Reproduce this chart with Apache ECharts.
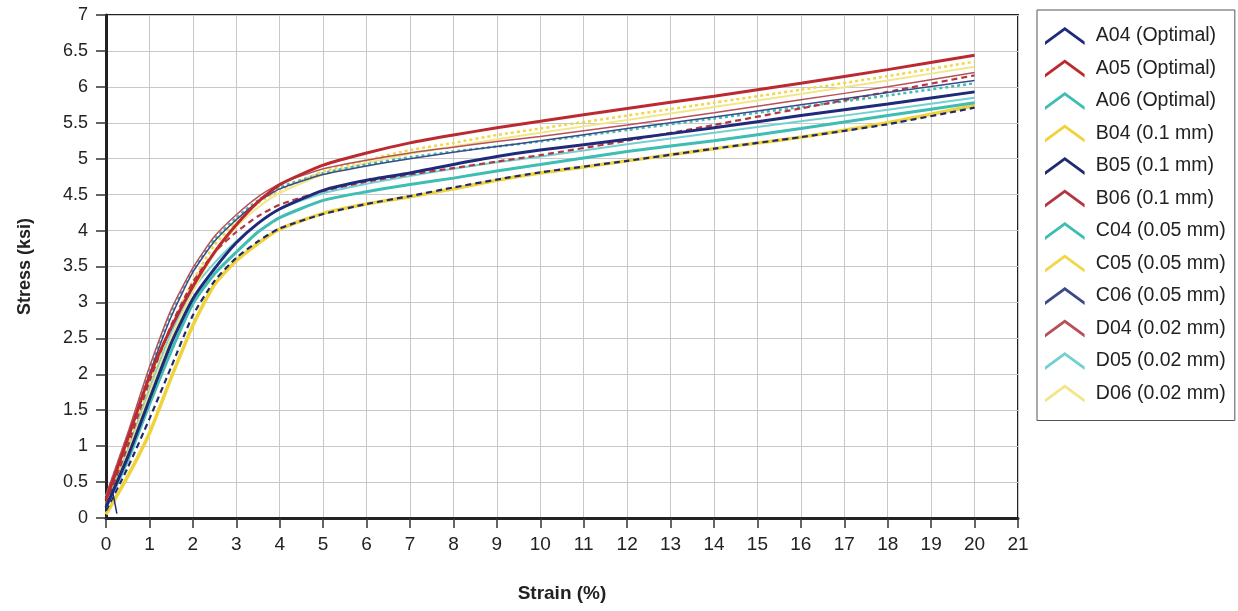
<!DOCTYPE html>
<html>
<head>
<meta charset="utf-8">
<script src="https://cdn.jsdelivr.net/npm/echarts@6/dist/echarts.min.js"></script>
<style>html,body{margin:0;padding:0;background:#fff}#c{width:1238px;height:611px}</style>
</head>
<body>
<div id="c"></div>
<script>
// Strain (%) sample positions shared by all curves
const strain = [0, 0.5, 1, 1.5, 2, 2.5, 3, 3.5, 4, 5, 6, 7, 8, 9, 10, 12, 14, 16, 18, 20];

const seriesNames = ['A04 (Optimal)','A05 (Optimal)','A06 (Optimal)','B04 (0.1 mm)','B05 (0.1 mm)','B06 (0.1 mm)',
  'C04 (0.05 mm)','C05 (0.05 mm)','C06 (0.05 mm)','D04 (0.02 mm)','D05 (0.02 mm)','D06 (0.02 mm)'];

// Stress (ksi) at each strain position
const A04 = [0.15,0.85,1.65,2.43,3.05,3.47,3.83,4.10,4.30,4.56,4.70,4.80,4.92,5.03,5.12,5.27,5.43,5.60,5.76,5.93];
const A05 = [0.25,1.10,1.97,2.65,3.22,3.70,4.08,4.40,4.64,4.91,5.08,5.22,5.33,5.43,5.52,5.70,5.87,6.05,6.24,6.44];
const A06 = [0.15,0.80,1.58,2.32,2.98,3.40,3.70,3.98,4.18,4.42,4.54,4.64,4.73,4.83,4.92,5.10,5.25,5.42,5.60,5.78];
const B04 = [0.05,0.58,1.18,1.95,2.68,3.25,3.58,3.82,4.02,4.24,4.37,4.47,4.58,4.70,4.80,4.97,5.14,5.30,5.50,5.74];
const B05 = [0.10,0.70,1.38,2.10,2.82,3.30,3.62,3.85,4.03,4.23,4.37,4.48,4.60,4.71,4.81,4.97,5.14,5.30,5.48,5.71];
const B06 = [0.20,1.00,1.90,2.68,3.28,3.70,3.98,4.20,4.36,4.55,4.68,4.78,4.87,4.96,5.05,5.25,5.47,5.70,5.93,6.16];
const C04 = [0.30,1.15,2.05,2.85,3.45,3.88,4.18,4.42,4.60,4.80,4.92,5.02,5.10,5.17,5.24,5.40,5.56,5.72,5.88,6.05];
const C05 = [0.20,1.00,1.85,2.65,3.30,3.80,4.12,4.38,4.56,4.82,4.98,5.12,5.22,5.33,5.42,5.60,5.78,5.96,6.15,6.35];
const C06 = [0.28,1.10,2.00,2.80,3.42,3.85,4.15,4.40,4.58,4.78,4.90,5.00,5.09,5.17,5.25,5.42,5.58,5.75,5.92,6.09];
const D04 = [0.32,1.18,2.10,2.90,3.48,3.92,4.22,4.47,4.65,4.86,4.98,5.08,5.16,5.24,5.31,5.47,5.64,5.82,6.00,6.20];
const D05 = [0.20,0.95,1.80,2.58,3.18,3.55,3.85,4.10,4.30,4.52,4.65,4.76,4.86,4.95,5.03,5.20,5.36,5.52,5.68,5.85];
const D06 = [0.15,0.90,1.72,2.50,3.15,3.68,4.05,4.32,4.52,4.78,4.94,5.07,5.17,5.27,5.36,5.54,5.72,5.90,6.09,6.28];

// small unloading hook at the start of A04
const a04HookStrain = [0.14, 0.20, 0.25];
const a04HookStress = [0.40, 0.22, 0.06];

const xTicks = [0,1,2,3,4,5,6,7,8,9,10,11,12,13,14,15,16,17,18,19,20,21];
const yTicks = [0,0.5,1,1.5,2,2.5,3,3.5,4,4.5,5,5.5,6,6.5,7];

const values = [A04,A05,A06,B04,B05,B06,C04,C05,C06,D04,D05,D06];
const styles = [
  {color:'#1f2a78', width:3, type:'solid', z:9},
  {color:'#bb2a30', width:3, type:'solid', z:10},
  {color:'#3dbdb3', width:3, type:'solid', z:8},
  {color:'#f0d23a', width:3.5, type:'solid', z:3},
  {color:'#1f2a6e', width:2.2, type:[6,4], z:4},
  {color:'#b33640', width:2.2, type:[6,4], z:6},
  {color:'#3dbdb3', width:2.5, type:[3,3], z:5},
  {color:'#f0d84a', width:2.5, type:[3,3], z:5},
  {color:'#3c4a88', width:1.5, type:'solid', z:7},
  {color:'#b85058', width:1.5, type:'solid', z:7},
  {color:'#74d0d0', width:2, type:'solid', z:2},
  {color:'#f2e68a', width:2, type:'solid', z:2}
];

const chevron = 'path://M0,20 L22,4 L44,20 L44,24 L22,8 L0,24 Z';

const series = seriesNames.map((n,i)=>({
  name:n, type:'line', showSymbol:false, smooth:0.2,
  data: strain.map((x,k)=>[x, values[i][k]]),
  lineStyle:{color:styles[i].color, width:styles[i].width, type:styles[i].type},
  itemStyle:{color:styles[i].color},
  z: styles[i].z, animation:false
}));
series.push({
  name:'A04 (Optimal)', type:'line', showSymbol:false, smooth:true,
  data: a04HookStrain.map((x,k)=>[x, a04HookStress[k]]),
  lineStyle:{color:'#1f2a78', width:1.5}, itemStyle:{color:'#1f2a78'}, z:9, animation:false
});

const chart = echarts.init(document.getElementById('c'), null, {renderer:'canvas'});
chart.setOption({
  backgroundColor:'#fff',
  animation:false,
  grid:{left:106, right:220, top:15, bottom:93, show:true, borderColor:'#222', borderWidth:2, containLabel:false},
  xAxis:{
    type:'value', min:0, max:21, interval:1,
    name:'Strain (%)', nameLocation:'middle', nameGap:66,
    nameTextStyle:{fontFamily:'Liberation Sans Narrow, Liberation Sans, Arial', fontWeight:'bold', fontSize:19, color:'#222'},
    axisLine:{show:true, onZero:false, lineStyle:{color:'#222', width:3}},
    axisTick:{show:true, inside:false, length:10, lineStyle:{color:'#333', width:1.5}},
    axisLabel:{margin:17, fontFamily:'Liberation Sans Narrow, Liberation Sans, Arial', fontSize:19, color:'#222',
      formatter:v=>xTicks.includes(v)?String(v):''},
    splitLine:{show:true, lineStyle:{color:'#c8c8c8', width:1}}
  },
  yAxis:{
    type:'value', min:0, max:7, interval:0.5,
    name:'Stress (ksi)', nameLocation:'middle', nameGap:72, nameRotate:90,
    nameTextStyle:{fontFamily:'Liberation Sans, Arial', fontWeight:'bold', fontSize:18, color:'#222'},
    axisLine:{show:true, onZero:false, lineStyle:{color:'#222', width:3}},
    axisTick:{show:true, inside:false, length:10, lineStyle:{color:'#333', width:1.5}},
    axisLabel:{margin:18, fontFamily:'Liberation Sans, Arial', fontSize:18, color:'#222',
      formatter:v=>yTicks.includes(v)?String(v):''},
    splitLine:{show:true, lineStyle:{color:'#c8c8c8', width:1}}
  },
  legend:{
    orient:'vertical', left:1037, top:10,
    padding:[16,9,17,8], itemGap:12.5, itemWidth:44, itemHeight:18,
    borderColor:'#555', borderWidth:1,
    data: seriesNames.map(n=>({name:n, icon:chevron})),
    textStyle:{fontFamily:'Liberation Sans, Arial', fontSize:19.5, color:'#222', padding:[0,0,0,4]}
  },
  series: series
});
</script>
</body>
</html>
